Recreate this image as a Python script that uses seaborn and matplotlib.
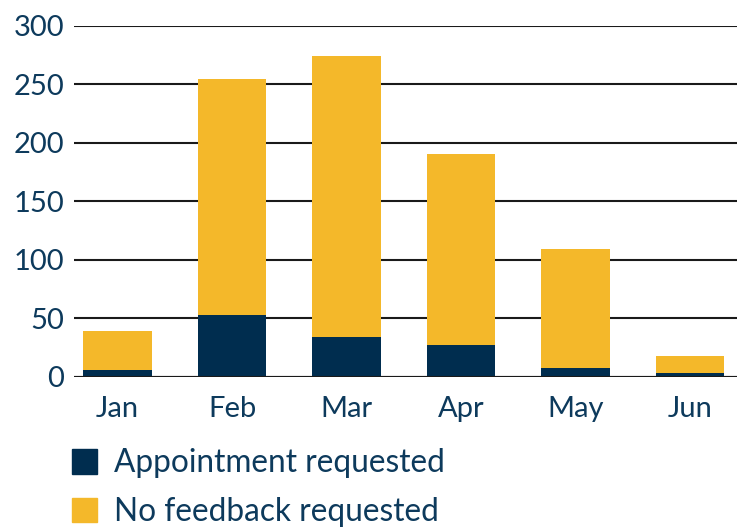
import pandas as pd
import matplotlib.pyplot as plt
import seaborn as sns
from matplotlib.patches import Patch

# Values
months = ['Jan', 'Feb', 'Mar', 'Apr', 'May', 'Jun']
appointment = [6, 53, 34, 27, 8, 3]
total = [39, 255, 274, 191, 109, 18]

navy = '#002d4f'
yellow = '#f4b82a'
text_color = '#0d3a5c'

df = pd.DataFrame({'Month': months, 'Appointment': appointment, 'Total': total})

sns.set_style('white')
plt.rcParams['font.family'] = ['Lato', 'DejaVu Sans']

fig = plt.figure(figsize=(7.38, 5.30), dpi=100)
ax = fig.add_axes([0.1003, 0.2887, 0.8983, 0.6623])

# Stacked bars: full height in yellow, then the appointment part in navy
sns.barplot(data=df, x='Month', y='Total', color=yellow, width=0.6,
            saturation=1, linewidth=0, ax=ax, zorder=2)
sns.barplot(data=df, x='Month', y='Appointment', color=navy, width=0.6,
            saturation=1, linewidth=0, ax=ax, zorder=3)

ax.set_ylim(0, 300)
ax.set_xlim(-0.38, 5.41)
ax.set_yticks(range(0, 301, 50))
ax.yaxis.grid(True, color='#1a1a1a', linewidth=1.5, zorder=1)
ax.set_axisbelow(True)
for side in ['top', 'right', 'left', 'bottom']:
    ax.spines[side].set_visible(False)
ax.axhline(0, color='#1a1a1a', linewidth=1.5, zorder=4)
ax.set_xlabel('')
ax.set_ylabel('')
ax.tick_params(axis='y', length=0, pad=7, labelsize=21, labelcolor=text_color)
ax.tick_params(axis='x', length=0, pad=14, labelsize=21, labelcolor=text_color)

handles = [Patch(color=navy, label='Appointment requested'),
           Patch(color=yellow, label='No feedback requested')]
fig.legend(handles=handles, loc='center left', bbox_to_anchor=(0.097, 0.08),
           bbox_transform=fig.transFigure, frameon=False, fontsize=22.8,
           labelcolor=text_color, handlelength=0.8, handleheight=0.8,
           handletextpad=0.55, labelspacing=0.58, borderpad=0, borderaxespad=0)

fig.savefig('out.png', dpi=100)
